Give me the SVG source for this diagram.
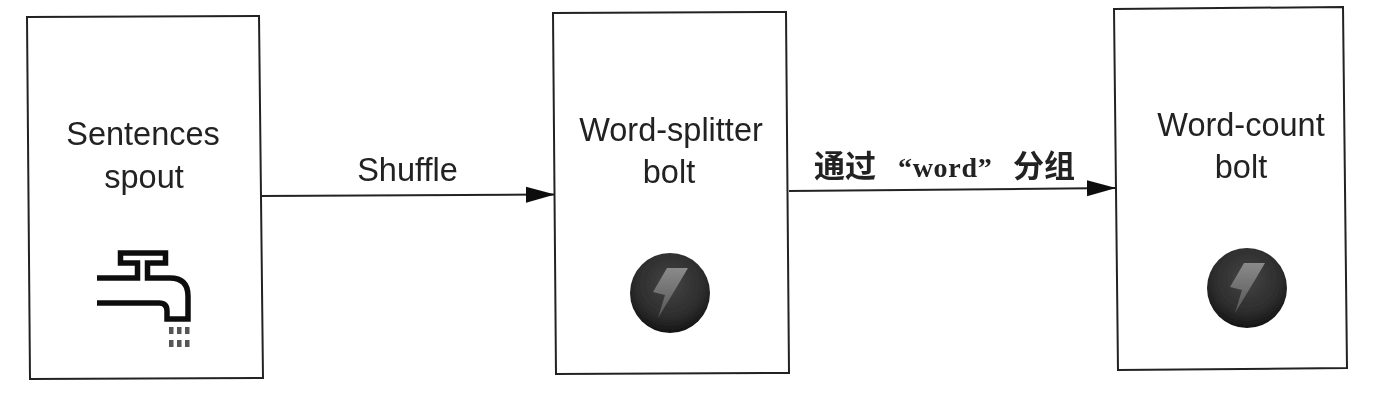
<svg xmlns="http://www.w3.org/2000/svg" width="1398" height="404" viewBox="0 0 1398 404">
<style>
.box{fill:#fff;stroke:#222;stroke-width:2}
.t{font-family:"Liberation Sans",Arial,sans-serif;font-size:32.500px;fill:#222;text-anchor:middle}
.c{fill:none;stroke:#222;stroke-width:2}
.tap{fill:none;stroke:#111;stroke-width:5.500}
.drop{fill:#555}
.cjk{font-family:"Noto Sans CJK SC","Liberation Serif",serif;font-size:31px;font-weight:bold;fill:#222}
.word{font-family:"Liberation Serif",serif;font-size:28px;font-weight:bold;letter-spacing:0.700px;fill:#222}
</style>
<defs>
<marker id="arrow" markerUnits="userSpaceOnUse" markerWidth="30" markerHeight="18" refX="29" refY="9" orient="auto"><path d="M0 1L29 9L0 17Z" fill="#111"/></marker>
<radialGradient id="ball" cx="50%" cy="38%" r="62%"><stop offset="0" stop-color="#444"/><stop offset="0.7" stop-color="#2c2c2c"/><stop offset="1" stop-color="#141414"/></radialGradient>
<linearGradient id="boltfill" x1="0" y1="0" x2="0" y2="1"><stop offset="0" stop-color="#8a8a8a"/><stop offset="1" stop-color="#555"/></linearGradient>
<filter id="scan" x="-5%" y="-5%" width="110%" height="110%"><feGaussianBlur stdDeviation="0.6"/></filter>
<path id="boltshape" d="M667 268H688L678 285L658 318L665 295L653 292Z" fill="url(#boltfill)"/>
</defs>
<rect width="1398" height="404" fill="#fff"/>
<g filter="url(#scan)">
<g id="connectors">
<path class="c" d="M261 196L555 194.500" marker-end="url(#arrow)"/>
<path class="c" d="M789 191L1116 188" marker-end="url(#arrow)"/>
<text class="t" x="407.500" y="181">Shuffle</text>
<text class="cjk" x="814" y="177">通过</text>
<text class="word" x="898" y="177">“word”</text>
<text class="cjk" x="1013" y="177">分组</text>
</g>
<g id="sentences-spout">
<path class="box" d="M27 17L259 16L263 378L30 379Z"/>
<text class="t" x="143" y="145">Sentences</text>
<text class="t" x="144" y="188">spout</text>
<path class="tap" d="M97 278H137.500V263H120.500V253H165.500V263H147.500V278H170Q188 278 188 296V319H167V311Q167 303 159 303H97"/>
<rect class="drop" x="169" y="327" width="4.500" height="7"/><rect class="drop" x="177" y="327" width="4.500" height="7"/><rect class="drop" x="185" y="327" width="4.500" height="7"/>
<rect class="drop" x="169" y="340" width="4.500" height="7"/><rect class="drop" x="177" y="340" width="4.500" height="7"/><rect class="drop" x="185" y="340" width="4.500" height="7"/>
</g>
<g id="word-splitter-bolt">
<path class="box" d="M553 13L786 12L789 373L556 374Z"/>
<text class="t" x="671" y="141">Word-splitter</text>
<text class="t" x="669" y="183">bolt</text>
<circle cx="670" cy="293" r="40" fill="url(#ball)"/>
<use href="#boltshape"/>
</g>
<g id="word-count-bolt">
<path class="box" d="M1114 9L1343 7L1347 368L1118 370Z"/>
<text class="t" x="1241" y="136">Word-count</text>
<text class="t" x="1241" y="178">bolt</text>
<circle cx="1247" cy="288" r="40" fill="url(#ball)"/>
<use href="#boltshape" x="577" y="-5"/>
</g>
</g>
</svg>
